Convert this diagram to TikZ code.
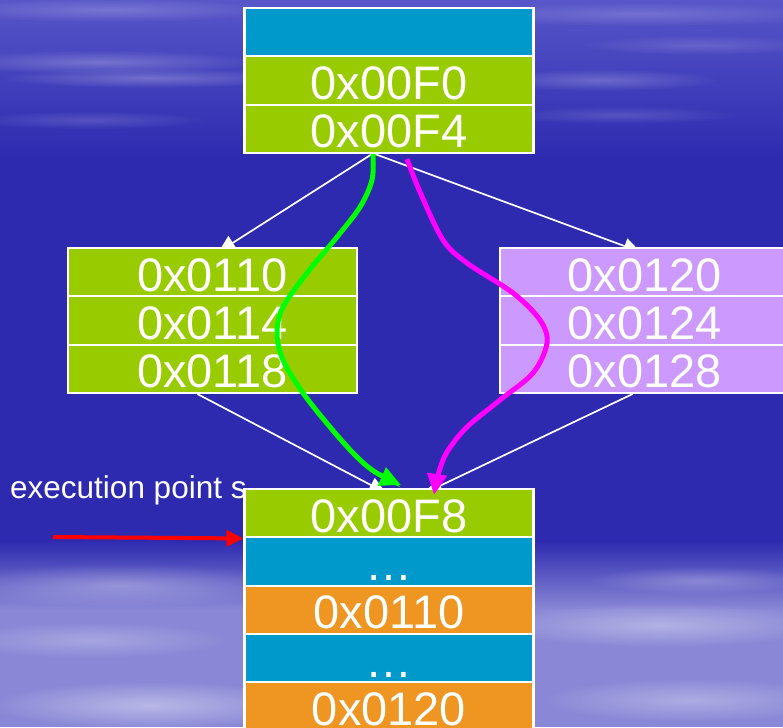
\documentclass[tikz,border=0pt]{standalone}
\usepackage{fontspec}
\setmainfont{Liberation Sans}
\usetikzlibrary{arrows.meta,fadings}
\tikzfading[name=fuzzy, inner color=transparent!0, outer color=transparent!100]
\definecolor{bgblue}{RGB}{45,42,176}
\definecolor{bgtop}{RGB}{88,86,200}
\definecolor{bglow}{RGB}{138,136,214}
\definecolor{cellblue}{RGB}{0,153,204}
\definecolor{cellgreen}{RGB}{153,204,0}
\definecolor{cellpurple}{RGB}{204,153,255}
\definecolor{cellorange}{RGB}{238,149,34}
\definecolor{pathgreen}{RGB}{0,255,0}
\definecolor{pathmag}{RGB}{255,0,255}
\pgfdeclarelayer{bg}
\pgfsetlayers{bg,main}
\begin{document}
\begin{tikzpicture}[x=1pt,y=-1pt,
  cell/.style={draw=white, line width=2.2pt, minimum width=289pt, minimum height=48.3pt,
    inner sep=0pt, text=white, font=\fontsize{47}{47}\selectfont, text height=38pt, text depth=0pt},
  wline/.style={draw=white, line width=1.7pt, -{Triangle[length=17pt,width=16pt]}},
  streak/.style={fill=white, path fading=fuzzy},
  ctlpath/.style={line width=5pt, -{Triangle[length=21pt,width=19pt]}}
]
\useasboundingbox (0,0) rectangle (783,727);

% label (drawn before the cells so the box covers its edge)
\node[anchor=base west, text=white, font=\fontsize{31.5}{32}\selectfont, inner sep=0pt] (lbl) at (10,498) {execution point s};

% top box
\node[cell, fill=cellblue]  (t1) at (389,32.2) {};
\node[cell, fill=cellgreen] (t2) at (389,80.5) {0x00F0};
\node[cell, fill=cellgreen] (t3) at (389,128.8) {0x00F4};
% left box
\node[cell, fill=cellgreen] (l1) at (212.5,272.2) {0x0110};
\node[cell, fill=cellgreen] (l2) at (212.5,320.5) {0x0114};
\node[cell, fill=cellgreen] (l3) at (212.5,368.8) {0x0118};
% right box
\node[cell, fill=cellpurple] (r1) at (644.5,272.2) {0x0120};
\node[cell, fill=cellpurple] (r2) at (644.5,320.5) {0x0124};
\node[cell, fill=cellpurple] (r3) at (644.5,368.8) {0x0128};
% bottom box
\node[cell, fill=cellgreen]  (b1) at (389,513.2) {0x00F8};
\node[cell, fill=cellblue]   (b2) at (389,561.5) {\char"2026};
\node[cell, fill=cellorange] (b3) at (389,609.8) {0x0110};
\node[cell, fill=cellblue]   (b4) at (389,658.2) {\char"2026};
\node[cell, fill=cellorange] (b5) at (389,706.5) {0x0120};

\begin{pgfonlayer}{bg}
  \fill[bgblue] (0,0) rectangle (783,727);
  \shade[top color=bgtop, bottom color=bgblue] (0,0) rectangle (783,160);
  \shade[top color=bgblue, bottom color=bglow] (0,540) rectangle (783,610);
  \fill[bglow] (0,609) rectangle (783,727);
  % top streaks
  \fill[streak, opacity=.2] (110,10) ellipse [x radius=170, y radius=12];
  \fill[streak, opacity=.18] (640,14) ellipse [x radius=200, y radius=12];
  \fill[streak, opacity=.25] (100,62) ellipse [x radius=160, y radius=12];
  \fill[streak, opacity=.25] (150,78) ellipse [x radius=150, y radius=10];
  \fill[streak, opacity=.22] (600,80) ellipse [x radius=120, y radius=11];
  \fill[streak, opacity=.15] (700,45) ellipse [x radius=120, y radius=10];
  \fill[streak, opacity=.15] (620,115) ellipse [x radius=120, y radius=9];
  \fill[streak, opacity=.15] (90,120) ellipse [x radius=120, y radius=9];
  % bottom streaks
  \fill[streak, opacity=.3] (120,585) ellipse [x radius=170, y radius=22];
  \fill[streak, opacity=.25] (90,640) ellipse [x radius=140, y radius=18];
  \fill[streak, opacity=.4] (150,705) ellipse [x radius=160, y radius=24];
  \fill[streak, opacity=.25] (700,580) ellipse [x radius=110, y radius=14];
  \fill[streak, opacity=.35] (660,625) ellipse [x radius=170, y radius=22];
  \fill[streak, opacity=.3] (690,700) ellipse [x radius=150, y radius=22];
  % white connectors
  \draw[wline] ([xshift=-17pt]t3.south) -- ([xshift=6pt,yshift=-5pt]l1.north);
  \draw[wline] ([xshift=-14pt]t3.south) -- ([xshift=-4pt,yshift=-5pt]r1.north);
  \draw[wline] ([xshift=-15pt]l3.south) -- ([xshift=-3pt,yshift=-5pt]b1.north);
  \draw[wline] ([xshift=-12pt]r3.south) -- ([xshift=36pt,yshift=-5pt]b1.north);
\end{pgfonlayer}

% green control path
\draw[pathgreen, ctlpath]
  plot[smooth, tension=0.55] coordinates {([xshift=-16pt]t3.south) (372,180) (360,207) (337,237) (307,273) (283,307) (277,333) (283,360) (303,393) (330,427) (355,455) (375,472) ([xshift=12pt,yshift=3pt]b1.north)};
% magenta control path
\draw[pathmag, ctlpath]
  plot[smooth, tension=0.55] coordinates {([xshift=18pt,yshift=-5pt]t3.south) (420,192) (443,240) (467,263) (513,293) (540,320) (547,343) (533,373) (500,400) (467,427) (447,452) (438,475) ([xshift=45pt,yshift=-7pt]b1.north)};
% red arrow
\coordinate (redstart) at (53,537);
\draw[red, line width=4pt, -{Triangle[length=17pt,width=16pt]}] (redstart) -- (b1.south west);
\end{tikzpicture}
\end{document}
